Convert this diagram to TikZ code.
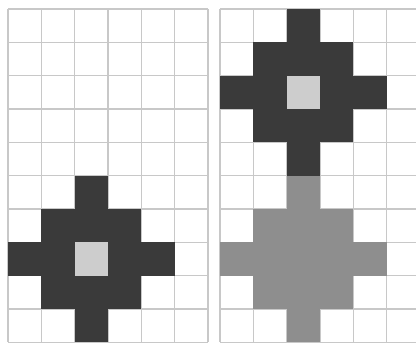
\documentclass[tikz,border=0pt]{standalone}
\definecolor{gridc}{RGB}{200,200,200}
\definecolor{darkc}{RGB}{58,58,58}
\definecolor{lightc}{RGB}{205,205,205}
\definecolor{midc}{RGB}{142,142,142}
\tikzset{
  gridline/.style={draw=gridc, line width=1.3pt},
  darkcell/.style={fill=darkc},
  lightcell/.style={fill=lightc},
  midcell/.style={fill=midc}
}
\newcommand\mycell[4]{\fill[#4] ({#1+(#2)*33.33},{9+(#3)*33.33}) rectangle ++(33.33,33.33);}
\newcommand\mydiamond[4]{%
  \foreach \dx/\dy in {0/-2,-1/-1,0/-1,1/-1,-2/0,-1/0,1/0,2/0,-1/1,0/1,1/1,0/2}{%
    \mycell{#1}{#2+\dx}{#3+\dy}{#4}}}
\begin{document}
\begin{tikzpicture}[x=1pt,y=-1pt]
\useasboundingbox (0,0) rectangle (416,343);
\clip (0,0) rectangle (416,343);
\fill[white] (0,0) rectangle (416,343);
\foreach \gx in {8,220}{
  \foreach \i in {0,...,6}{\draw[gridline] ({\gx+\i*33.33},9) -- ({\gx+\i*33.33},342.3);}
  \foreach \j in {0,...,10}{\draw[gridline] (\gx,{9+\j*33.33}) -- ({\gx+6*33.33},{9+\j*33.33});}
}
% left grid
\mydiamond{8}{2}{7}{darkcell}
\mycell{8}{2}{7}{lightcell}
% right grid
\mydiamond{220}{2}{7}{midcell}
\mycell{220}{2}{7}{midcell}
\mydiamond{220}{2}{2}{darkcell}
\mycell{220}{2}{2}{lightcell}
\end{tikzpicture}
\end{document}
